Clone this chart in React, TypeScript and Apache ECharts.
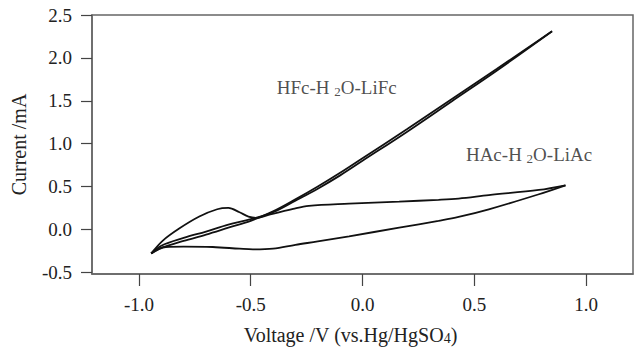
import React, { useEffect, useRef } from "react";
import * as echarts from "echarts";

// HFc-H2O-LiFc : forward and reverse scans
const hfcFwdV = [-0.945, -0.9, -0.8, -0.7, -0.6, -0.5, -0.4, -0.3, -0.2, -0.1, 0.0, 0.2, 0.4, 0.6, 0.848];
const hfcFwdI = [-0.28, -0.215, -0.135, -0.06, 0.02, 0.1, 0.21, 0.35, 0.5, 0.66, 0.83, 1.17, 1.52, 1.87, 2.31];
const hfcRevV = [0.848, 0.6, 0.4, 0.2, 0.0, -0.1, -0.2, -0.3, -0.4, -0.5, -0.6, -0.7, -0.8, -0.9, -0.945];
const hfcRevI = [2.31, 1.85, 1.495, 1.14, 0.8, 0.63, 0.475, 0.335, 0.2, 0.12, 0.055, -0.025, -0.1, -0.19, -0.28];

// HAc-H2O-LiAc : forward (lower) and reverse (upper) scans
const hacFwdV = [-0.945, -0.88, -0.8, -0.67, -0.55, -0.49, -0.4, -0.3, -0.2, -0.06, 0.164, 0.34, 0.43, 0.565, 0.789, 0.908];
const hacFwdI = [-0.28, -0.205, -0.2, -0.205, -0.225, -0.233, -0.225, -0.18, -0.14, -0.08, 0.02, 0.1, 0.145, 0.234, 0.41, 0.514];
const hacRevV = [0.908, 0.789, 0.565, 0.43, 0.34, 0.164, -0.06, -0.24, -0.31, -0.42, -0.47, -0.51, -0.55, -0.6, -0.65, -0.73, -0.82, -0.893, -0.945];
const hacRevI = [0.514, 0.46, 0.4, 0.36, 0.345, 0.324, 0.3, 0.275, 0.24, 0.17, 0.135, 0.15, 0.2, 0.25, 0.235, 0.15, 0.01, -0.13, -0.28];

const xTicks = [-1.0, -0.5, 0.0, 0.5, 1.0];
const yTicks = [-0.5, 0.0, 0.5, 1.0, 1.5, 2.0, 2.5];

// annotation labels (data coordinates)
const labelTexts = ["{n|HFc-H }{s|2}{n|O-LiFc}", "{n|HAc-H }{s|2}{n|O-LiAc}"];
const labelV = [-0.115, 0.745];
const labelI = [1.66, 0.876];

const FONT = '"Liberation Serif", "Times New Roman", serif';

const zip = (a: number[], b: number[]) => a.map((v, i) => [v, b[i]]);

export default function App() {
  const ref = useRef<HTMLDivElement>(null);
  useEffect(() => {
    if (!ref.current) return;
    const chart = echarts.init(ref.current, null, { renderer: "svg" });
    const lineBase = (name: string, v: number[], i: number[]) => ({
      name,
      type: "line",
      data: zip(v, i),
      showSymbol: false,
      smooth: 0.35,
      lineStyle: { color: "#111", width: 1.8 },
      silent: true,
    });
    const rich = {
      n: { fontFamily: FONT, fontSize: 19, color: "#222", lineHeight: 22 },
      s: { fontFamily: FONT, fontSize: 13, color: "#222", verticalAlign: "bottom", lineHeight: 13 },
    };
    chart.setOption({
      animation: false,
      backgroundColor: "#fff",
      grid: {
        left: 92,
        right: 1,
        top: 15,
        bottom: 76,
        show: true,
        borderColor: "#666",
        borderWidth: 1.5,
      },
      xAxis: {
        type: "value",
        min: -1.21,
        max: 1.21,
        name: "Voltage /V (vs.Hg/HgSO{s|4})",
        nameLocation: "middle",
        nameGap: 51,
        nameTextStyle: {
          fontFamily: FONT,
          fontSize: 20,
          color: "#222",
          padding: [0, 24, 0, 0],
          rich: {
            s: { fontFamily: FONT, fontSize: 14, color: "#222", verticalAlign: "bottom", lineHeight: 14 },
          },
        },
        axisLine: { show: true, onZero: false, lineStyle: { color: "#666", width: 1.5 } },
        axisTick: { show: true, length: 12, customValues: xTicks, lineStyle: { color: "#444", width: 1.2 } },
        axisLabel: {
          customValues: xTicks,
          margin: 21,
          fontFamily: FONT,
          fontSize: 19,
          color: "#222",
          formatter: (v: number) => v.toFixed(1),
        },
        splitLine: { show: false },
      },
      yAxis: {
        type: "value",
        min: -0.52,
        max: 2.5,
        name: "Current /mA",
        nameLocation: "middle",
        nameGap: 63,
        nameRotate: 90,
        nameTextStyle: { fontFamily: FONT, fontSize: 20, color: "#222" },
        axisLine: { show: true, onZero: false, lineStyle: { color: "#666", width: 1.5 } },
        axisTick: { show: true, length: 11, customValues: yTicks, lineStyle: { color: "#444", width: 1.2 } },
        axisLabel: {
          customValues: yTicks,
          margin: 20,
          fontFamily: FONT,
          fontSize: 19,
          color: "#222",
          formatter: (v: number) => v.toFixed(1),
        },
        splitLine: { show: false },
      },
      series: [
        lineBase("HFc fwd", hfcFwdV, hfcFwdI),
        lineBase("HFc rev", hfcRevV, hfcRevI),
        lineBase("HAc fwd", hacFwdV, hacFwdI),
        lineBase("HAc rev", hacRevV, hacRevI),
        {
          name: "labels",
          type: "scatter",
          symbolSize: 0,
          silent: true,
          data: labelV.map((v, i) => ({
            value: [v, labelI[i]],
            label: {
              show: true,
              position: "inside",
              formatter: labelTexts[i],
              rich,
            },
          })),
        },
      ],
    });
    return () => chart.dispose();
  }, []);
  return (
    <div
      ref={ref}
      style={{ position: "fixed", left: 0, top: 0, width: 634, height: 350, background: "#fff" }}
    />
  );
}
